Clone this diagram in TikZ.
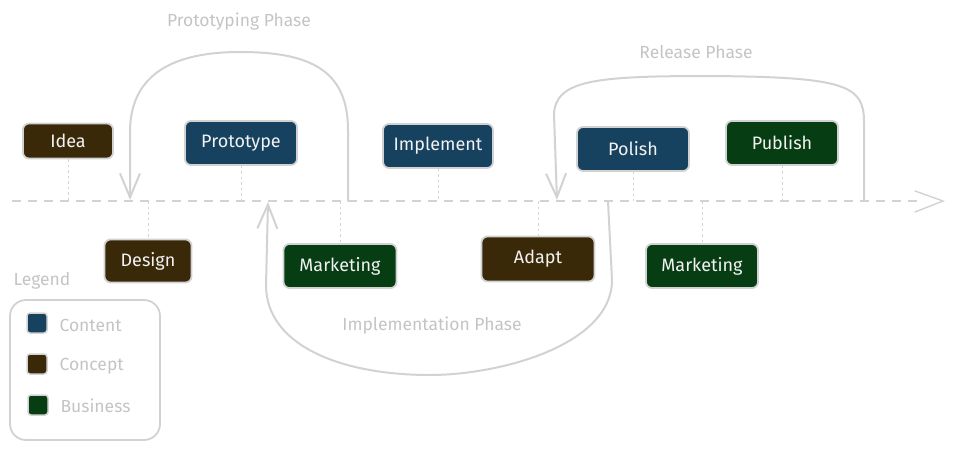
\documentclass[tikz,border=0pt]{standalone}
\usepackage{fontspec}
\setmainfont{Fira Sans}
\usetikzlibrary{arrows.meta}
\definecolor{cblue}{HTML}{17425F}
\definecolor{cbrown}{HTML}{3A2908}
\definecolor{cgreen}{HTML}{073D12}
\definecolor{lgray}{HTML}{D2D2D2}
\definecolor{tgray}{HTML}{C4C4C4}
\definecolor{boxtext}{HTML}{F2F2F2}
\tikzset{
  stage/.style={draw=lgray, line width=1.8pt, rounded corners=6pt, text=boxtext,
    font=\fontsize{18}{20}\selectfont, minimum width=112pt, minimum height=44pt, inner sep=0pt},
  content/.style={stage, fill=cblue},
  concept/.style={stage, fill=cbrown},
  business/.style={stage, fill=cgreen},
  timeline/.style={draw=lgray, line width=1.4pt, dash pattern=on 9pt off 7pt},
  tick/.style={draw=lgray, line width=0.9pt, dash pattern=on 2.5pt off 3pt},
  phase/.style={draw=lgray, line width=2pt, line cap=round, line join=round,
    -{Straight Barb[length=24pt,width=20pt,line width=2pt]}},
  phaselabel/.style={text=tgray, font=\fontsize{17.5}{20}\selectfont},
  swatch/.style={draw=lgray, line width=1.5pt, rounded corners=3pt, minimum width=20pt, minimum height=20pt, inner sep=0pt},
  legendtext/.style={text=tgray, font=\fontsize{17.5}{20}\selectfont, anchor=west}
}
\begin{document}
\begin{tikzpicture}[x=1pt,y=-1pt]
\useasboundingbox (0,0) rectangle (953,450);
% timeline
\coordinate (tl0) at (12,201);
\coordinate (tl1) at (943,201);
\draw[timeline] (tl0) -- (920,201);
\draw[lgray, line width=1.4pt, line cap=round] (915,191) -- (tl1) -- (915,212);
% stage nodes
\node[concept, minimum width=90pt, minimum height=35pt] (idea) at (68,141) {Idea};
\node[content] (proto) at (241,143) {Prototype};
\node[content, minimum width=110pt] (impl) at (438,146) {Implement};
\node[content] (polish) at (633,149) {Polish};
\node[business] (publish) at (782,143) {Publish};
\node[concept, minimum width=87pt, minimum height=43pt] (design) at (148,261) {Design};
\node[business, minimum width=113pt] (mkt1) at (340,266) {Marketing};
\node[concept, minimum width=113pt, minimum height=45pt] (adapt) at (538,259) {Adapt};
\node[business] (mkt2) at (702,266) {Marketing};
% ticks
\foreach \n in {idea,proto,impl,polish,publish}{
  \draw[tick] (\n.south) -- (\n.south |- tl0);
}
\foreach \n in {design,mkt1,adapt,mkt2}{
  \draw[tick] (\n.north |- tl0) -- (\n.north);
}
% phases
\coordinate (pa0) at (348,201);
\coordinate (pa1) at (130,200);
\draw[phase] (pa0) -- (348,130) .. controls (348,70) and (310,52) .. (240,52)
  .. controls (165,52) and (131,80) .. (130,130) -- (pa1);
\coordinate (ra0) at (864,201);
\coordinate (ra1) at (557,200);
\draw[phase] (ra0) -- (864,122) .. controls (864,85) and (845,77) .. (710,76)
  .. controls (595,76) and (555,80) .. (554,115) -- (ra1);
\coordinate (ia0) at (608,201);
\coordinate (ia1) at (268,202);
\draw[phase] (ia0) -- (612,280) .. controls (612,345) and (500,375) .. (430,375)
  .. controls (340,375) and (266,345) .. (266,285) -- (ia1);
\node[phaselabel] (plab) at (239,22) {Prototyping Phase};
\node[phaselabel] (rlab) at (696,52) {Release Phase};
\node[phaselabel] (ilab) at (432,326) {Implementation Phase};
% legend
\node[phaselabel] (leglab) at (42,281) {Legend};
\node[draw=lgray, line width=1.8pt, rounded corners=16pt, minimum width=150pt, minimum height=140pt] (legend) at (85,370) {};
\node[swatch, fill=cblue] (s1) at (37,323) {};
\node[swatch, fill=cbrown] (s2) at (37,364) {};
\node[swatch, fill=cgreen] (s3) at (38,405) {};
\node[legendtext] (l1) at (56,325) {Content};
\node[legendtext] (l2) at (56,366) {Concept};
\node[legendtext] (l3) at (57,406) {Business};
\end{tikzpicture}
\end{document}
